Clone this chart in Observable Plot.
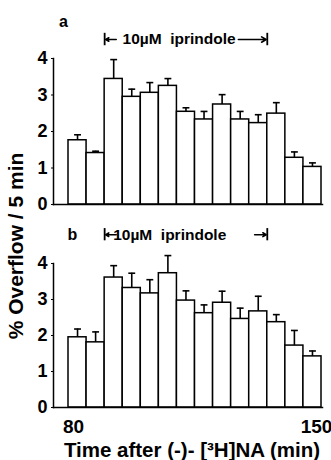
<!DOCTYPE html>
<html>
<head>
<meta charset="utf-8">
<script src="https://cdn.jsdelivr.net/npm/d3@7"></script>
<script src="https://cdn.jsdelivr.net/npm/@observablehq/plot@0.6"></script>
<style>
  html, body { margin: 0; padding: 0; background: #fff; }
  #wrap { position: relative; width: 331px; height: 460px; overflow: hidden; font-family: "Liberation Sans", Arial, sans-serif; font-weight: bold; background: #fff; }
  #wrap svg { position: absolute; left: 0; overflow: visible; z-index: 1; }
  #ylab { position: absolute; z-index: 5; left: 16px; top: 246px; transform: translate(-50%, -50%) rotate(-90deg); white-space: nowrap; font-size: 21px; color: #000; }
</style>
</head>
<body>
<div id="wrap"><div id="ylab">% Overflow / 5 min</div></div>
<script>
// ---- data ----
const startTimes = [80, 85, 90, 95, 100, 105, 110, 115, 120, 125, 130, 135, 140, 145];
const meanA = [1.76, 1.41, 3.44, 2.95, 3.06, 3.25, 2.54, 2.33, 2.74, 2.33, 2.23, 2.49, 1.28, 1.03];
const semA  = [0.15, 0.05, 0.53, 0.21, 0.28, 0.20, 0.11, 0.22, 0.27, 0.22, 0.23, 0.30, 0.16, 0.11];
const meanB = [1.95, 1.81, 3.61, 3.32, 3.17, 3.73, 2.97, 2.62, 2.91, 2.46, 2.67, 2.37, 1.72, 1.42];
const semB  = [0.23, 0.29, 0.33, 0.41, 0.38, 0.49, 0.27, 0.23, 0.32, 0.30, 0.42, 0.21, 0.42, 0.15];
const yTicks = [0, 1, 2, 3, 4];
const xTicks = [80, 150];
const treatment = [90, 135];          // 10 µM iprindole period (min)
const treatmentLabel = "10µM  iprindole";
const binWidth = 5;
const xTitle = "Time after (-)- [³H]NA (min)";

const rows = (mean, sem) => startTimes.map((t, i) => ({t, mean: mean[i], top: mean[i] + sem[i]}));

const font = {fontFamily: "Liberation Sans, Arial, sans-serif", fontWeight: "bold"};
const cap = 0.95;

function panel({data, height, marginTop, marginBottom, letter, letterX, letterY, annY, textX, arrowFrom, leftArrowFrom, xAxis, top}) {
  const marks = [
    Plot.rectY(data, {x1: "t", x2: d => d.t + binWidth, y1: 0, y2: "mean", fill: "white", stroke: "black", strokeWidth: 1.5}),
    Plot.ruleX(data, {x: d => d.t + binWidth / 2, y1: "mean", y2: "top", stroke: "black", strokeWidth: 1.6}),
    Plot.link(data, {x1: d => d.t + binWidth / 2 - cap, x2: d => d.t + binWidth / 2 + cap, y1: "top", y2: "top", stroke: "black", strokeWidth: 1.6}),
    Plot.frame({anchor: "left", strokeWidth: 1.5}),
    Plot.frame({anchor: "bottom", strokeWidth: 1.5}),
    Plot.axisY({ticks: yTicks, tickFormat: d3.format("d"), tickSize: 2, tickPadding: 4, fontSize: 18, ...font}),
    // panel letter
    Plot.text([letter], {x: letterX, y: letterY, text: d => d, fontSize: 16, ...font}),
    // treatment bracket
    Plot.ruleX(treatment, {x: d => d, y1: annY - 0.17, y2: annY + 0.17, strokeWidth: 1.8}),
    Plot.text([treatmentLabel], {x: textX, y: annY, text: d => d, fontSize: 15.5, ...font}),
    Plot.arrow([0], {x1: leftArrowFrom, x2: treatment[0] + 0.3, y1: annY, y2: annY, headLength: 5, strokeWidth: 1.6}),
    Plot.arrow([0], {x1: arrowFrom, x2: treatment[1] - 0.3, y1: annY, y2: annY, headLength: 5, strokeWidth: 1.6})
  ];
  if (xAxis) {
    marks.push(Plot.axisX([xTicks[0]], {tickSize: 0, tickPadding: 12, dx: 5, fontSize: 19, ...font}));
    marks.push(Plot.axisX([xTicks[1]], {tickSize: 0, tickPadding: 12, dx: -5, fontSize: 19, ...font}));
    marks.push(Plot.text([xTitle], {frameAnchor: "bottom", dy: 43, dx: 4, text: d => d, fontSize: 20.5, lineAnchor: "middle", ...font}));
  } else {
    marks.push(Plot.axisX({ticks: [], tickSize: 0, label: null}));
  }
  const svg = Plot.plot({
    width: 331, height, marginTop, marginBottom, marginLeft: 53, marginRight: 9,
    x: {domain: [80, 150], range: [68, 321], label: null},
    y: {domain: [0, 4], label: null},
    style: {background: "transparent", color: "black", overflow: "visible", ...font},
    marks
  });
  svg.style.top = top + "px";
  document.getElementById("wrap").appendChild(svg);
}

panel({data: rows(meanA, semA), height: 215, marginTop: 58, marginBottom: 11, top: 0,
  letter: "a", letterX: 78.6, letterY: 5.0, annY: 4.52, textX: 110.6, arrowFrom: 127, leftArrowFrom: 93.2, xAxis: false});
panel({data: rows(meanB, semB), height: 245, marginTop: 48, marginBottom: 53, top: 215,
  letter: "b", letterX: 81.1, letterY: 4.8, annY: 4.8, textX: 108, arrowFrom: 131.5, leftArrowFrom: 93.2, xAxis: true});
</script>
</body>
</html>
